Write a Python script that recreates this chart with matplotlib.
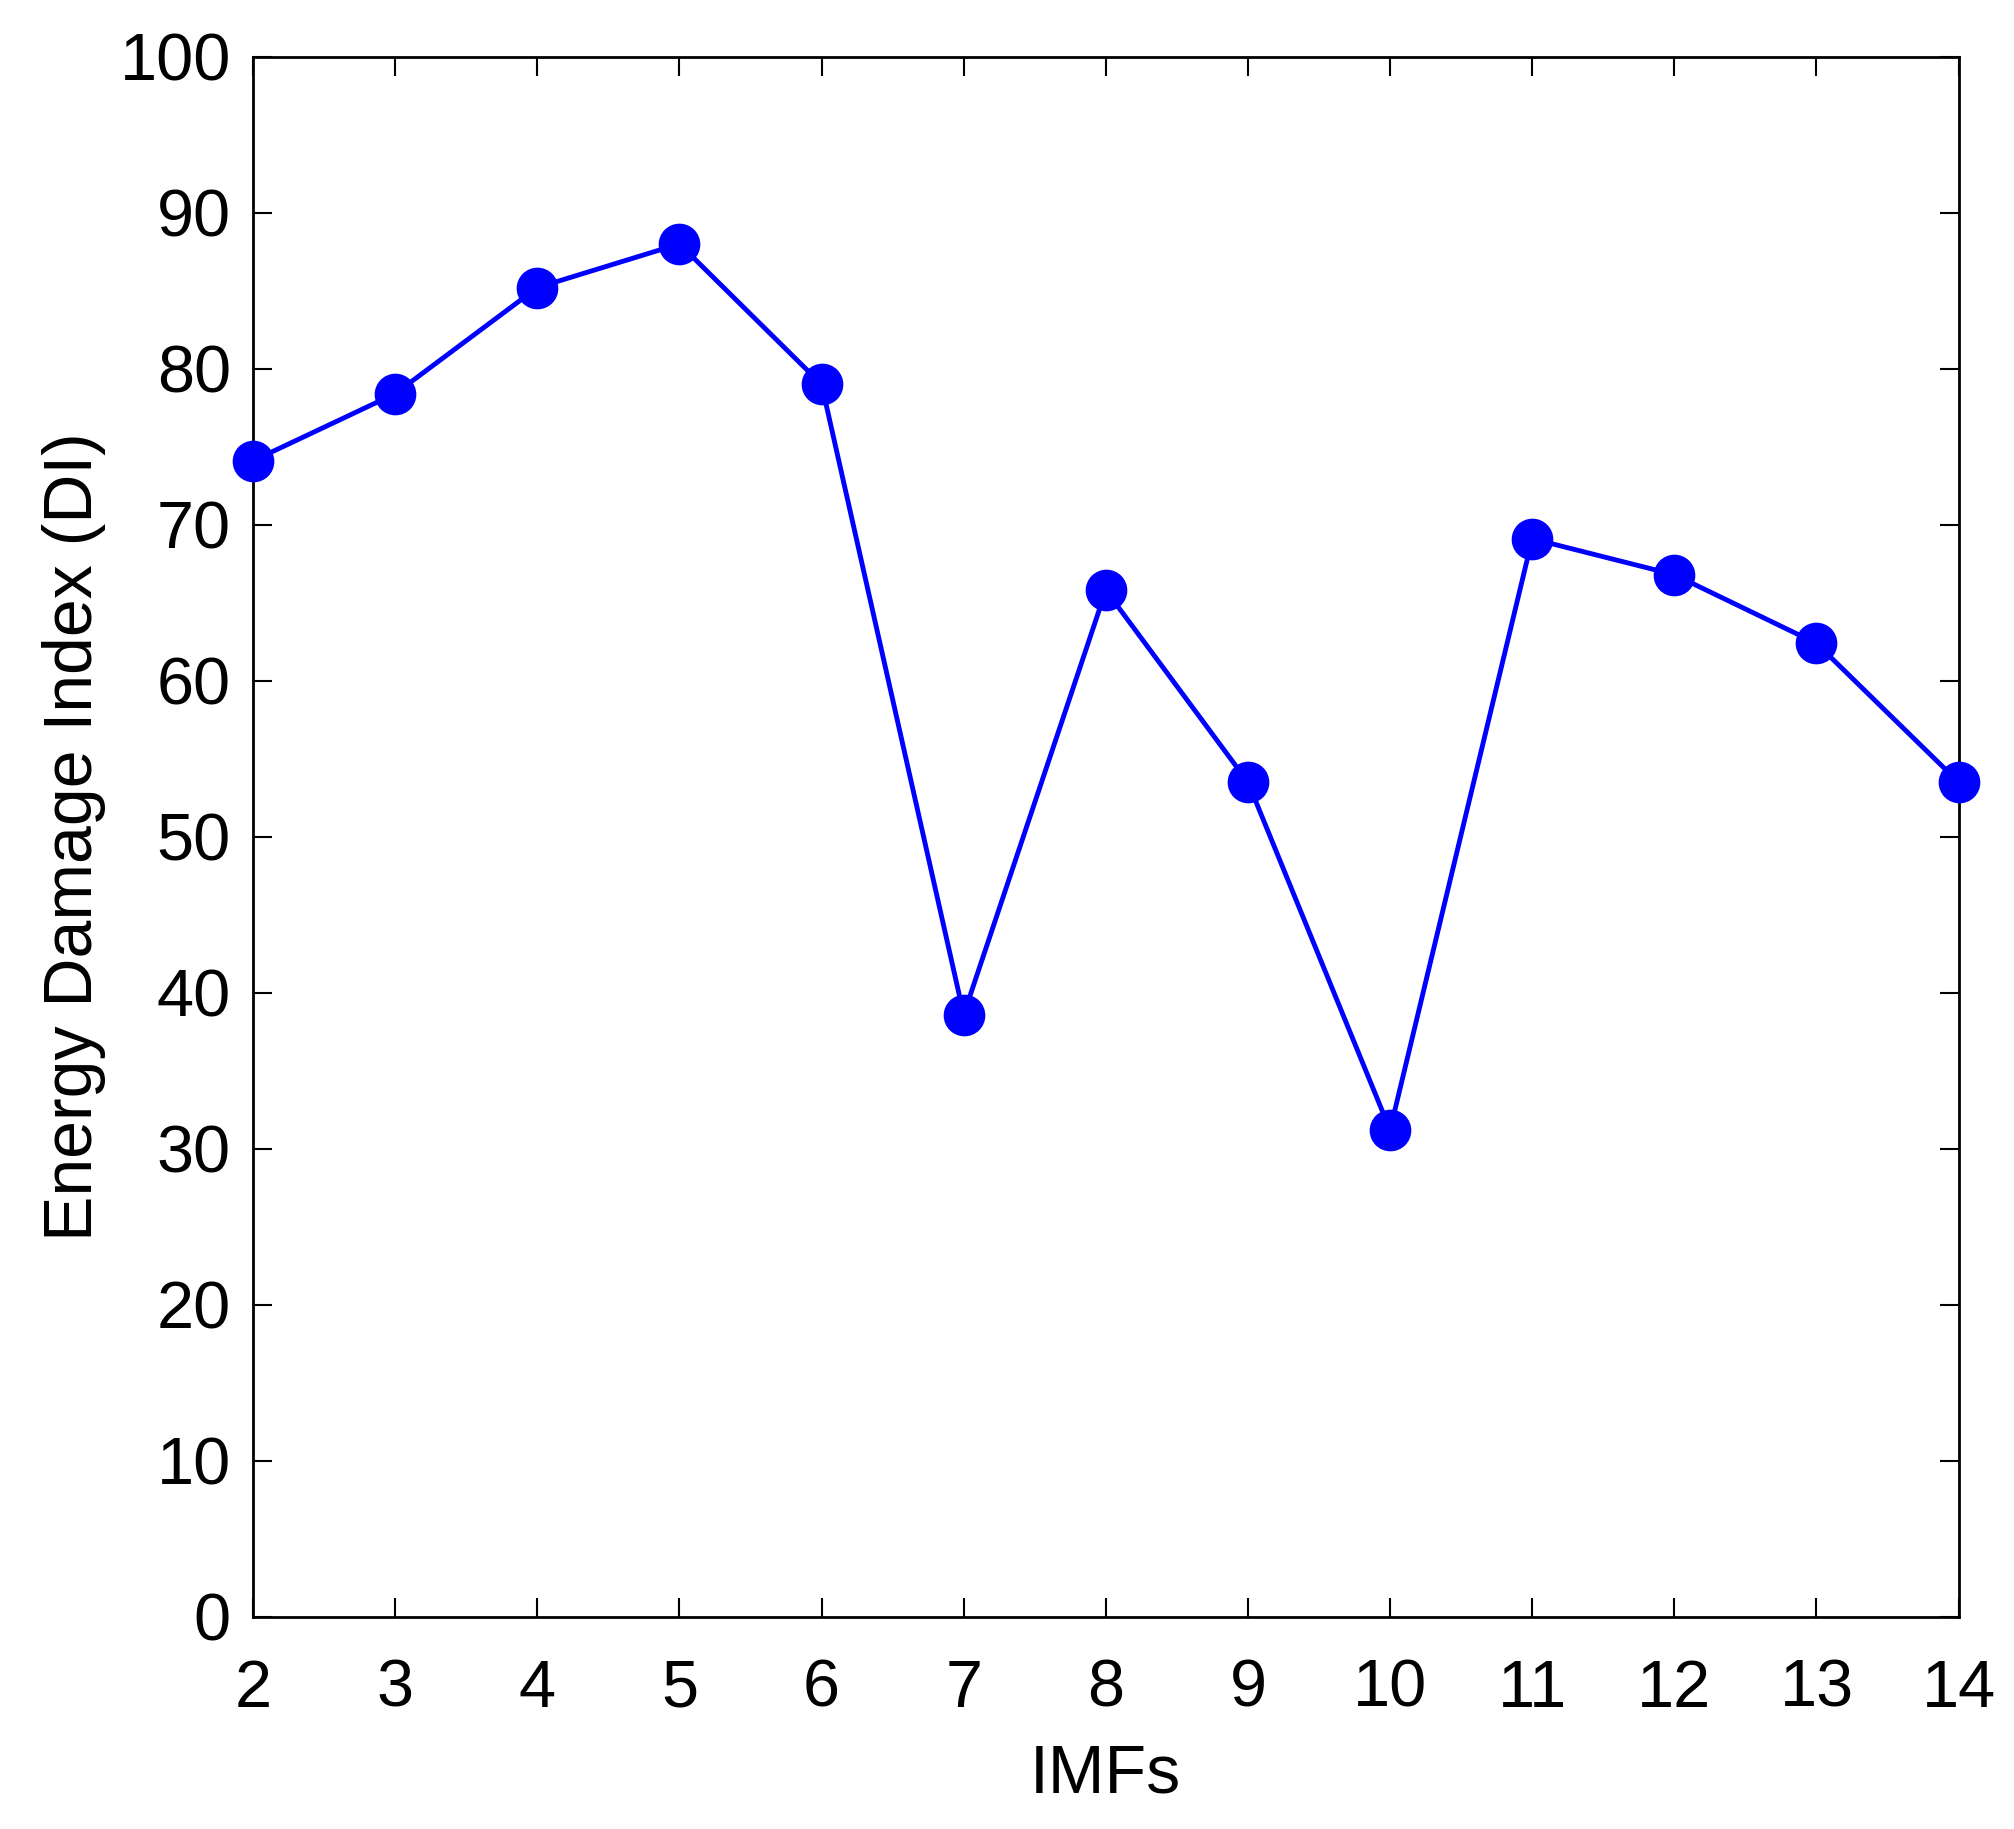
import matplotlib
matplotlib.use('Agg')
import matplotlib.pyplot as plt

# IMF index vs energy damage index
imfs = [2, 3, 4, 5, 6, 7, 8, 9, 10, 11, 12, 13, 14]
damage_index = [74.1, 78.4, 85.2, 88.0, 79.0, 38.6, 65.8, 53.5, 31.2, 69.1, 66.8, 62.4, 53.5]
y_ticks = [0, 10, 20, 30, 40, 50, 60, 70, 80, 90, 100]

plt.rcParams['font.family'] = ['Liberation Sans', 'DejaVu Sans']

fig = plt.figure(figsize=(20.15, 18.29), dpi=100)
ax = fig.add_axes([0.1256, 0.116, 0.8464, 0.853])

ax.plot(imfs, damage_index, color='#0000ff', linewidth=3.5, marker='o',
        markersize=29, clip_on=False, zorder=3)

ax.set_xlim(2, 14)
ax.set_ylim(0, 100)
ax.set_xticks(imfs)
ax.set_yticks(y_ticks)
ax.tick_params(direction='in', length=14, width=1.5, labelsize=48,
               top=True, right=True)
ax.tick_params(axis='x', pad=30)
ax.tick_params(axis='y', pad=16)
for s in ax.spines.values():
    s.set_linewidth(2)

ax.set_xlabel('IMFs', fontsize=49, labelpad=16)
ax.set_ylabel('Energy Damage Index (DI)', fontsize=49, labelpad=10)

fig.savefig('out.png', dpi=100)
